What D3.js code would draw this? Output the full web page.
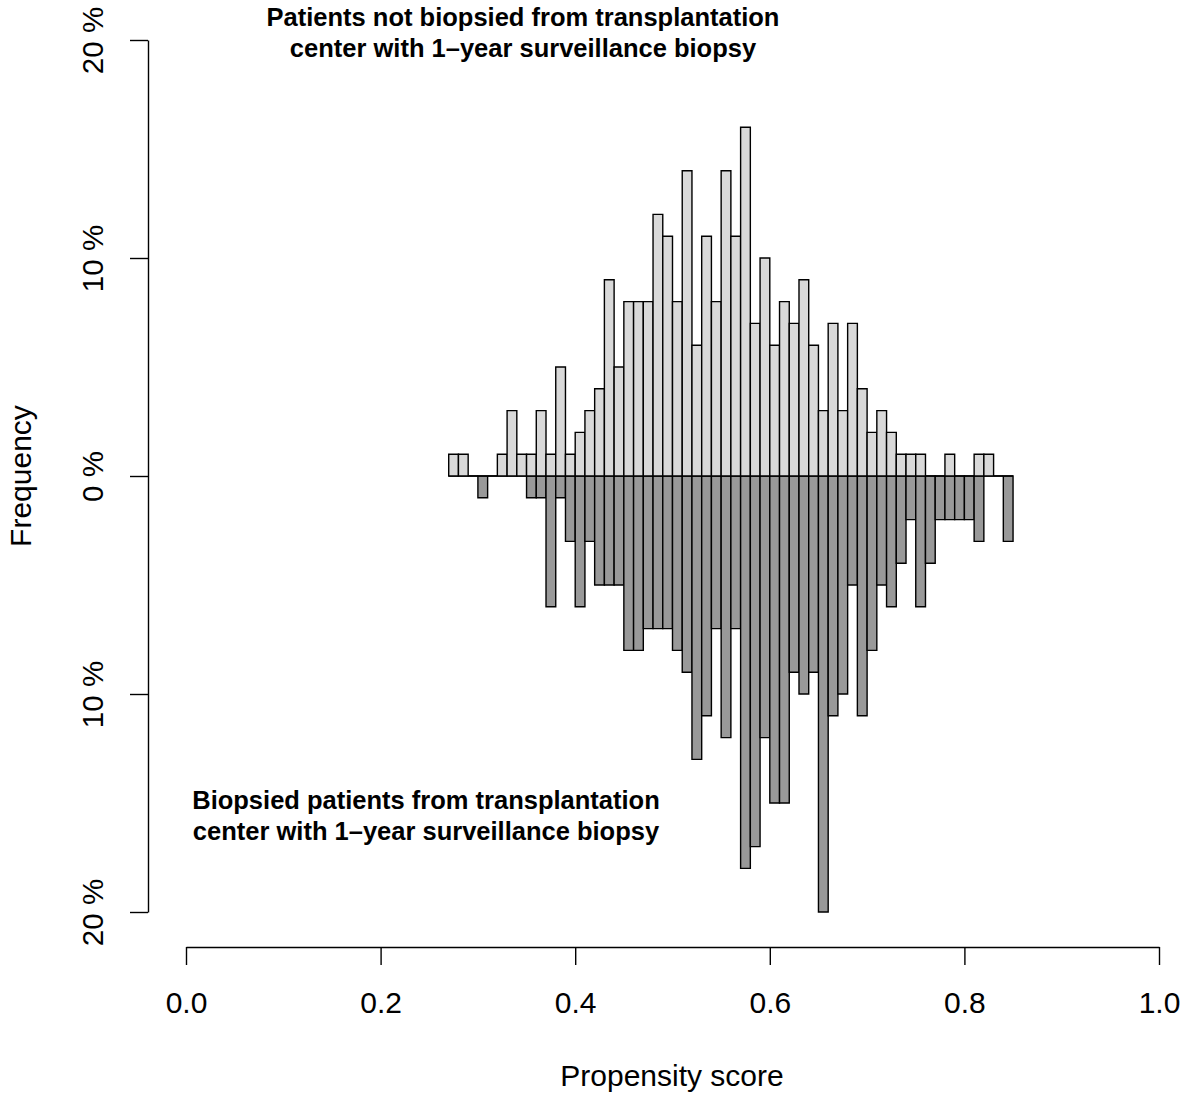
<!DOCTYPE html>
<html>
<head>
<meta charset="utf-8">
<script src="https://cdn.jsdelivr.net/npm/d3@7"></script>
<style>
  html, body { margin: 0; padding: 0; background: #ffffff; }
  svg { display: block; }
  text { font-family: "Liberation Sans", Arial, Helvetica, sans-serif; fill: #000; }
</style>
</head>
<body>
<div id="chart"></div>
<script>
// ---- data (percent of patients per propensity-score bin) ----
const binStarts = [0.27,0.28,0.29,0.30,0.31,0.32,0.33,0.34,0.35,0.36,
                   0.37,0.38,0.39,0.40,0.41,0.42,0.43,0.44,0.45,0.46,
                   0.47,0.48,0.49,0.50,0.51,0.52,0.53,0.54,0.55,0.56,
                   0.57,0.58,0.59,0.60,0.61,0.62,0.63,0.64,0.65,0.66,
                   0.67,0.68,0.69,0.70,0.71,0.72,0.73,0.74,0.75,0.76,
                   0.77,0.78,0.79,0.80,0.81,0.82,0.83,0.84];
const binWidth = 0.01;
const notBiopsied = [1,1,0,0,0,1,3,1,1,3,
                     1,5,1,2,3,4,9,5,8,8,
                     8,12,11,8,14,6,11,8,14,11,
                     16,7,10,6,8,7,9,6,3,7,
                     3,7,4,2,3,2,1,1,1,0,
                     0,1,0,0,1,1,0,0];
const biopsied =    [0,0,0,1,0,0,0,0,1,1,
                     6,1,3,6,3,5,5,5,8,8,
                     7,7,7,8,9,13,11,7,12,7,
                     18,17,12,15,15,9,10,9,20,11,
                     10,5,11,8,5,6,4,2,6,4,
                     2,2,2,2,3,0,0,3];
const xTicks = [0, 0.2, 0.4, 0.6, 0.8, 1.0];
const yTicks = [20, 10, 0, -10, -20];
const topLabel = ["Patients not biopsied from transplantation", "center with 1\u2013year surveillance biopsy"];
const bottomLabel = ["Biopsied patients from transplantation", "center with 1\u2013year surveillance biopsy"];

// ---- layout ----
const W = 1181, H = 1095;
const svg = d3.select("#chart").append("svg").attr("width", W).attr("height", H);

const x = d3.scaleLinear().domain([0, 1]).range([186, 1159]);
const y = d3.scaleLinear().domain([-20, 20]).range([912, 40]);

const lightFill = "#d9d9d9", darkFill = "#999999";

function barPath(x0, x1, v0, v1) {
  const p = d3.path();
  p.moveTo(x(x0), y(v0));
  p.lineTo(x(x1), y(v0));
  p.lineTo(x(x1), y(v1));
  p.lineTo(x(x0), y(v1));
  p.closePath();
  return p.toString();
}

const bins = binStarts.map((b, i) => ({ b, up: notBiopsied[i], down: biopsied[i] }));

// bottom (biopsied) bars
svg.append("g").selectAll("path").data(bins).join("path")
  .attr("d", d => barPath(d.b, d.b + binWidth, 0, -d.down))
  .attr("fill", darkFill).attr("stroke", "#000").attr("stroke-width", 1.4);

// top (not biopsied) bars
svg.append("g").selectAll("path").data(bins).join("path")
  .attr("d", d => barPath(d.b, d.b + binWidth, 0, d.up))
  .attr("fill", lightFill).attr("stroke", "#000").attr("stroke-width", 1.4);

// ---- y axis ----
const yAxis = d3.axisLeft(y).tickValues(yTicks).tickSize(18).tickSizeOuter(0).tickFormat("");
const gy = svg.append("g").attr("transform", "translate(148,0)").call(yAxis);
gy.select(".domain").attr("stroke", "#000").attr("stroke-width", 1.4);
gy.selectAll(".tick line").attr("stroke", "#000").attr("stroke-width", 1.4);
gy.selectAll(".tick").append("text")
  .attr("transform", "translate(-45,0) rotate(-90)")
  .attr("text-anchor", "middle")
  .attr("font-size", 29.5)
  .attr("fill", "#000")
  .text(d => Math.abs(d) + " %");

// ---- x axis ----
const xAxis = d3.axisBottom(x).tickValues(xTicks).tickSize(18).tickSizeOuter(0).tickFormat(d3.format(".1f"));
const gx = svg.append("g").attr("transform", "translate(0,947)").call(xAxis);
gx.select(".domain").attr("stroke", "#000").attr("stroke-width", 1.4);
gx.selectAll(".tick line").attr("stroke", "#000").attr("stroke-width", 1.4);
gx.selectAll(".tick text").attr("font-size", 30).attr("fill", "#000")
  .attr("dy", null).attr("y", 66)
  .style("font-family", '"Liberation Sans", Arial, sans-serif');

// ---- axis titles ----
svg.append("text").attr("x", 672).attr("y", 1086).attr("text-anchor", "middle")
  .attr("font-size", 30).text("Propensity score");
svg.append("text").attr("transform", "translate(31,476) rotate(-90)").attr("text-anchor", "middle")
  .attr("font-size", 30).text("Frequency");

// ---- group labels ----
const tl = svg.append("text").attr("text-anchor", "middle").attr("font-size", 25.5).attr("font-weight", "bold");
topLabel.forEach((s, i) => tl.append("tspan").attr("x", 523).attr("y", 26 + i * 31).text(s));
const bl = svg.append("text").attr("text-anchor", "middle").attr("font-size", 25.5).attr("font-weight", "bold");
bottomLabel.forEach((s, i) => bl.append("tspan").attr("x", 426).attr("y", 809 + i * 31).text(s));
</script>
</body>
</html>
